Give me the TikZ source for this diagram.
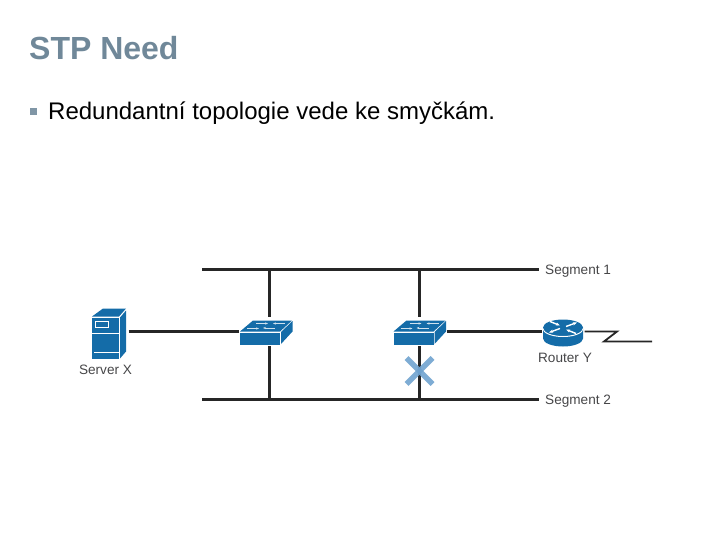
\documentclass[tikz,border=0pt]{standalone}
\usepackage{fontspec}
\setmainfont{Liberation Sans}
\usetikzlibrary{arrows.meta,positioning}
\definecolor{myslate}{RGB}{112,136,153}
\definecolor{mybullet}{RGB}{128,150,166}
\definecolor{myblue}{RGB}{20,108,168}
\definecolor{mycross}{RGB}{112,163,207}
\definecolor{myline}{RGB}{38,38,38}
\definecolor{mylabel}{RGB}{70,70,72}
\tikzset{
  switchicon/.pic={
    \fill[myblue] (-26,1) -- (14,1) -- (14,13) -- (-26,13) -- cycle;
    \fill[myblue] (-26,0) -- (-13,-11) -- (26,-11) -- (14,0) -- cycle;
    \fill[myblue] (15,0.5) -- (26.5,-10.5) -- (26.5,0) -- (15,12.5) -- cycle;
    \draw[white!80!myblue,line width=1pt,-{Stealth[length=3pt]}] (-19,-3) -- (-7,-3);
    \draw[white!80!myblue,line width=1pt,-{Stealth[length=3pt]}] (9,-3.5) -- (-3,-3.5);
    \draw[white!80!myblue,line width=1pt,-{Stealth[length=3pt]}] (-10,-8) -- (2,-8);
    \draw[white!80!myblue,line width=1pt,-{Stealth[length=3pt]}] (19,-8) -- (7,-8);
  },
  servericon/.pic={
    \fill[myblue] (-17,-15) -- (-6,-23) -- (17,-23) -- (10,-15) -- cycle;
    \fill[myblue] (-17,-14) rectangle (10,27);
    \fill[myblue] (11,-14) -- (17,-21) -- (17,20) -- (11,27) -- cycle;
    \draw[white,line width=0.9pt] (-17,2) -- (10,2);
    \draw[white,line width=0.9pt] (-15,21) -- (10,21);
    \draw[white,line width=0.9pt] (-14,-10) rectangle (-1,-4);
  },
  routericon/.pic={
    \fill[myblue] (-20,-3) -- (-20,7) arc[start angle=180,end angle=360,x radius=20,y radius=-8] -- (20,-3) -- cycle;
    \draw[white,line width=1pt] (-20,-3) arc[start angle=180,end angle=360,x radius=20,y radius=-8];
    \fill[myblue] (0,-4) ellipse [x radius=20,y radius=8];
    \draw[white,line width=1.4pt,-{Stealth[length=4pt]}] (-3,-3) -- (-14,1);
    \draw[white,line width=1.4pt,-{Stealth[length=4pt]}] (3,-5) -- (14,-9);
    \draw[white,line width=1.4pt,-{Stealth[length=4pt]}] (-13,-10) -- (-3,-6);
    \draw[white,line width=1.4pt,-{Stealth[length=4pt]}] (13,2) -- (3,-2);
  }
}
\begin{document}
\begin{tikzpicture}[x=1pt,y=-1pt,
  devbox/.style={rectangle,inner sep=0pt,outer sep=1.5pt},
  toptext/.style={anchor=base west,inner sep=0pt},
  netlabel/.style={inner sep=0pt,text=mylabel,font=\fontsize{13.6}{16}\selectfont},
  seglabel/.style={netlabel,anchor=west,inner sep=0pt,inner xsep=6pt,text height=13.5pt,text depth=3.5pt},
  link/.style={line width=2.3pt,myline}]
\useasboundingbox (0,0) rectangle (720,540);
\node[toptext,text=myslate,font=\fontsize{32}{38}\selectfont\bfseries] (title) at (29,60) {STP Need};
\node[rectangle,fill=mybullet,inner sep=0pt,minimum size=7pt] (bullet) at (33.5,111.5) {};
\node[toptext,font=\fontsize{24}{28}\selectfont] (point) at (48,120) {Redundantní topologie vede ke smyčkám.};
\node[devbox,minimum width=36pt,minimum height=54pt] (srvx) at (109,331.5) {};
\node[devbox,minimum width=52pt,minimum height=26pt] (sw1) at (266,331.5) {};
\node[devbox,minimum width=52pt,minimum height=26pt] (sw2) at (419.5,331.5) {};
\node[devbox,minimum width=40pt,minimum height=28pt] (rty) at (563,331.5) {};
\pic at (srvx) {servericon};
\pic at (sw1) {switchicon};
\pic at (sw2) {switchicon};
\pic at (rty) {routericon};
\node[netlabel] (srvlabel) at (105.5,370) {Server X};
\node[netlabel] (rtylabel) at (565,358) {Router Y};
\node[seglabel] (seg1) at (539,269.5) {Segment 1};
\node[seglabel] (seg2) at (539,399.5) {Segment 2};
\coordinate (bus1) at (202,269.5);
\coordinate (bus2) at (202,399.5);
\coordinate (a1) at (269.5,269.5);
\coordinate (a2) at (269.5,399.5);
\coordinate (b1) at (419.5,269.5);
\coordinate (b2) at (419.5,399.5);
\coordinate (z1) at (617,331.5);
\coordinate (z2) at (604,341.5);
\coordinate (z3) at (652,341.5);
\draw[link] (bus1) -- (seg1.west);
\draw[link] (bus2) -- (seg2.west);
\draw[link] (srvx.east) -- (sw1.west);
\draw[link] (sw2.east) -- (rty.west);
\draw[link] (a1) -- (a1 |- sw1.north);
\draw[link] (a2) -- (a2 |- sw1.south);
\draw[link] (b1) -- (sw2.north);
\draw[link] (b2) -- (sw2.south);
\draw[link,line width=1.8pt] (rty.east) -- (z1) -- (z2) -- (z3);
\draw[mycross,line width=5.5pt,opacity=.9] (406.5,358) -- (432.5,384);
\draw[mycross,line width=5.5pt,opacity=.9] (432.5,358) -- (406.5,384);
\end{tikzpicture}
\end{document}
